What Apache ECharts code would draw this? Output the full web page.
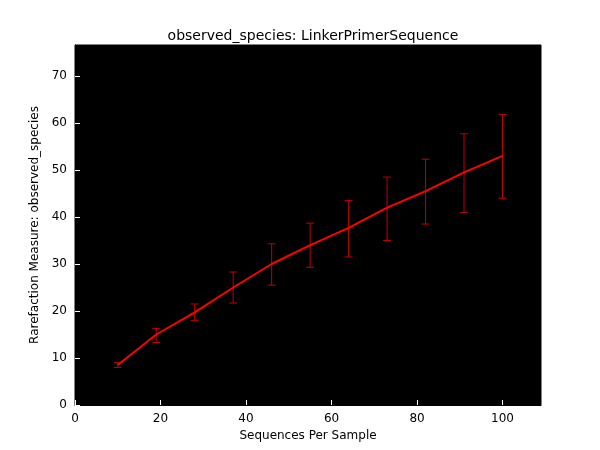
<!DOCTYPE html>
<html>
<head>
<meta charset="utf-8">
<script src="https://cdn.jsdelivr.net/npm/echarts@6/dist/echarts.min.js"></script>
<style>html,body{margin:0;background:#fff}#chart{width:600px;height:450px}</style>
</head>
<body>
<div id="chart"></div>
<script>
var seqPerSample = [10, 19, 28, 37, 46, 55, 64, 73, 82, 91, 100]
var meanSpecies = [8.5, 15, 19.7, 25, 30, 34, 37.7, 42, 45.5, 49.5, 53]
var errLow = [8, 13.3, 18, 21.7, 25.5, 29.3, 31.5, 35, 38.5, 41, 44]
var errHigh = [9, 16.3, 21.5, 28.3, 34.3, 38.7, 43.5, 48.5, 52.3, 57.7, 61.8]

var chart = echarts.init(document.getElementById('chart'))

var lineData = seqPerSample.map(function(x, i) { return [x, meanSpecies[i]] })
var errData = seqPerSample.map(function(x, i) { return [x, errLow[i], errHigh[i]] })

var axisCommon = {
    axisLine: { lineStyle: { color: '#000' } },
    axisTick: { inside: true, length: 5, lineStyle: { color: '#fff' } },
    axisLabel: { color: '#000', fontFamily: 'DejaVu Sans', fontSize: 12 },
    splitLine: { show: false },
    nameLocation: 'middle',
    nameTextStyle: { color: '#000', fontFamily: 'DejaVu Sans', fontSize: 12 }
}

chart.setOption({
    animation: false,
    title: {
        text: 'observed_species: LinkerPrimerSequence',
        left: 308, top: 24, textAlign: 'center',
        textStyle: { color: '#000', fontFamily: 'DejaVu Sans', fontSize: 14, fontWeight: 'normal' }
    },
    grid: { left: 75, right: 59, top: 45, bottom: 45, show: true, backgroundColor: '#000', borderColor: '#000' },
    xAxis: Object.assign({}, axisCommon, {
        type: 'value', min: 0, max: 109, interval: 20,
        name: 'Sequences Per Sample', nameGap: 18,
        axisLabel: Object.assign({}, axisCommon.axisLabel, { showMaxLabel: false })
    }),
    yAxis: Object.assign({}, axisCommon, {
        type: 'value', min: 0, max: 76.6, interval: 10,
        name: 'Rarefaction Measure: observed_species', nameGap: 30,
        axisLabel: Object.assign({}, axisCommon.axisLabel, { showMaxLabel: false })
    }),
    series: [{
        type: 'custom',
        data: errData,
        renderItem: function(params, api) {
            var x = api.value(0)
            var lo = api.coord([x, api.value(1)])
            var hi = api.coord([x, api.value(2)])
            var style = { stroke: '#c00000', lineWidth: 1 }
            return {
                type: 'group',
                children: [
                    { type: 'line', shape: { x1: lo[0], y1: lo[1], x2: hi[0], y2: hi[1] }, style: style },
                    { type: 'line', shape: { x1: lo[0] - 4, y1: lo[1], x2: lo[0] + 4, y2: lo[1] }, style: style },
                    { type: 'line', shape: { x1: hi[0] - 4, y1: hi[1], x2: hi[0] + 4, y2: hi[1] }, style: style }
                ]
            }
        }
    }, {
        type: 'line',
        data: lineData,
        showSymbol: false,
        lineStyle: { color: '#ff0000', width: 2 }
    }]
})
</script>
</body>
</html>
